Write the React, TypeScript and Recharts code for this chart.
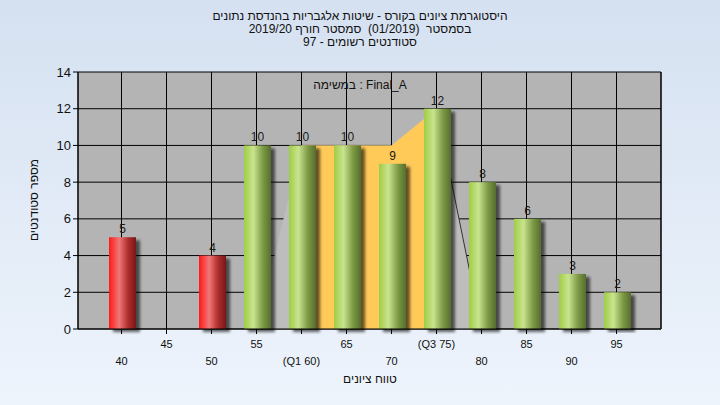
import React from 'react';
import { ComposedChart, Bar, Area, XAxis, YAxis, CartesianGrid, LabelList } from 'recharts';

const ranges = ['40', '45', '50', '55', '60', '65', '70', '75', '80', '85', '90', '95'];
const tickLabels = ['40', '45', '50', '55', '(Q1 60)', '65', '70', '(Q3 75)', '80', '85', '90', '95'];
const counts = [5, 0, 4, 10, 10, 10, 9, 12, 8, 6, 3, 2];
// outline of the spread, and the Q1..Q3 band drawn on it
const spread = [null, null, null, 0, 10, 10, 10, 12, 0, null, null, null];
const quartileBand = [null, null, null, null, 10, 10, 10, 12, null, null, null, null];
const spreadEdge = [null, null, null, null, null, null, null, 12, 0, null, null, null];
const yTicks = [0, 2, 4, 6, 8, 10, 12, 14];

const PASS_MARK = 55;

const titleLines = [
  'היסטוגרמת ציונים בקורס - שיטות אלגבריות בהנדסת נתונים',
  'בסמסטר  (01/2019)  סמסטר חורף 2019/20',
  'סטודנטים רשומים - 97',
];

const data = ranges.map((r, i) => ({
  range: r,
  count: counts[i],
  spread: spread[i],
  band: quartileBand[i],
  edge: spreadEdge[i],
}));

const FONT = '"Liberation Sans", Arial, sans-serif';

function BarShape(props: any) {
  const { x, y, width, height, payload } = props;
  if (!height || height <= 0) return null;
  const fail = Number(payload.range) < PASS_MARK;
  return (
    <rect
      x={x + 1}
      y={y}
      width={width}
      height={height}
      fill={fail ? 'url(#gradRed)' : 'url(#gradGreen)'}
      filter="url(#barShadow)"
    />
  );
}

function XTick(props: any) {
  const { x, y, index } = props;
  const lower = index % 2 === 0;
  return (
    <text
      x={x}
      y={y + (lower ? 29 : 12)}
      textAnchor="middle"
      fontSize={11}
      fontFamily={FONT}
      fill="#111"
    >
      {tickLabels[index]}
    </text>
  );
}

function ValueLabel(props: any) {
  const { x, y, width, value } = props;
  if (!value) return null;
  return (
    <text x={x + width / 2 + 1} y={y - 4} textAnchor="middle" fontSize={12} fontFamily={FONT} fill="#1a1a1a">
      {value}
    </text>
  );
}

export default function App() {
  return (
    <div
      style={{
        position: 'absolute',
        left: 0,
        top: 0,
        width: 720,
        height: 405,
        background: 'linear-gradient(to bottom, #d5e1f1, #eef4fc)',
        fontFamily: FONT,
        overflow: 'hidden',
      }}
    >
      <ComposedChart
        width={720}
        height={405}
        data={data}
        margin={{ top: 72, right: 19, bottom: 36, left: 38 }}
      >
        <defs>
          <linearGradient id="gradGreen" x1="0" y1="0" x2="1" y2="0">
            <stop offset="0%" stopColor="#9fcd45" />
            <stop offset="35%" stopColor="#c9e48e" />
            <stop offset="70%" stopColor="#7d9a45" />
            <stop offset="100%" stopColor="#566e2c" />
          </linearGradient>
          <linearGradient id="gradRed" x1="0" y1="0" x2="1" y2="0">
            <stop offset="0%" stopColor="#ff1a1a" />
            <stop offset="38%" stopColor="#f07676" />
            <stop offset="70%" stopColor="#b02e2e" />
            <stop offset="100%" stopColor="#761616" />
          </linearGradient>
          <filter id="barShadow" x="-20%" y="-10%" width="160%" height="120%">
            <feDropShadow dx="4" dy="3" stdDeviation="1.8" floodColor="#000" floodOpacity="0.6" />
          </filter>
        </defs>
        <CartesianGrid yAxisId="left" stroke="#000" fill="#b4b4b4" fillOpacity={1} />
        <XAxis
          dataKey="range"
          height={40}
          padding={{ left: 21, right: 22 }}
          interval={0}
          tick={<XTick />}
          tickSize={5}
          tickLine={{ stroke: '#000' }}
          axisLine={{ stroke: '#000' }}
        />
        <YAxis
          yAxisId="left"
          width={40}
          domain={[0, 14]}
          ticks={yTicks}
          tickSize={5}
          tickLine={{ stroke: '#000' }}
          axisLine={{ stroke: '#000' }}
          tick={{ fill: '#111', fontSize: 13, fontFamily: FONT }}
        />
        <YAxis
          yAxisId="right"
          orientation="right"
          width={40}
          domain={[0, 14]}
          ticks={yTicks}
          tickSize={5}
          tickLine={{ stroke: '#000' }}
          axisLine={{ stroke: '#000' }}
          tick={{ fill: '#111', fontSize: 13, fontFamily: FONT }}
        />
        <Area
          yAxisId="left"
          type="linear"
          dataKey="spread"
          fill="#bdbdbd"
          fillOpacity={1}
          stroke="none"
          isAnimationActive={false}
        />
        <Area
          yAxisId="left"
          type="linear"
          dataKey="band"
          fill="#ffca58"
          fillOpacity={1}
          stroke="none"
          isAnimationActive={false}
        />
        <Area
          yAxisId="left"
          type="linear"
          dataKey="edge"
          fill="none"
          stroke="#333"
          strokeWidth={1}
          dot={false}
          activeDot={false}
          isAnimationActive={false}
        />
        <Bar yAxisId="left" dataKey="count" barSize={27} shape={<BarShape />} isAnimationActive={false}>
          <LabelList dataKey="count" content={<ValueLabel />} />
        </Bar>
      </ComposedChart>

      <div style={{ position: 'absolute', top: 10, left: 0, width: 720, textAlign: 'center', fontSize: 12, lineHeight: '13px', color: '#111' }} dir="rtl">
        {titleLines.map((t, i) => (
          <div key={i} style={{ whiteSpace: 'pre' }}>{t}</div>
        ))}
      </div>
      <div dir="ltr" style={{ position: 'absolute', top: 78, left: 0, width: 720, textAlign: 'center', fontSize: 12, color: '#111', whiteSpace: 'pre' }}>
        {'במשימה : Final_A'}
      </div>
      <div dir="rtl" style={{ position: 'absolute', top: 372, left: 0, width: 740, textAlign: 'center', fontSize: 12, color: '#111' }}>
        {'טווח ציונים'}
      </div>
      <div
        dir="rtl"
        style={{
          position: 'absolute',
          left: 34,
          top: 200,
          transform: 'translate(-50%, -50%) rotate(-90deg)',
          fontSize: 12,
          color: '#111',
          whiteSpace: 'nowrap',
        }}
      >
        {'מספר סטודנטים'}
      </div>
    </div>
  );
}
